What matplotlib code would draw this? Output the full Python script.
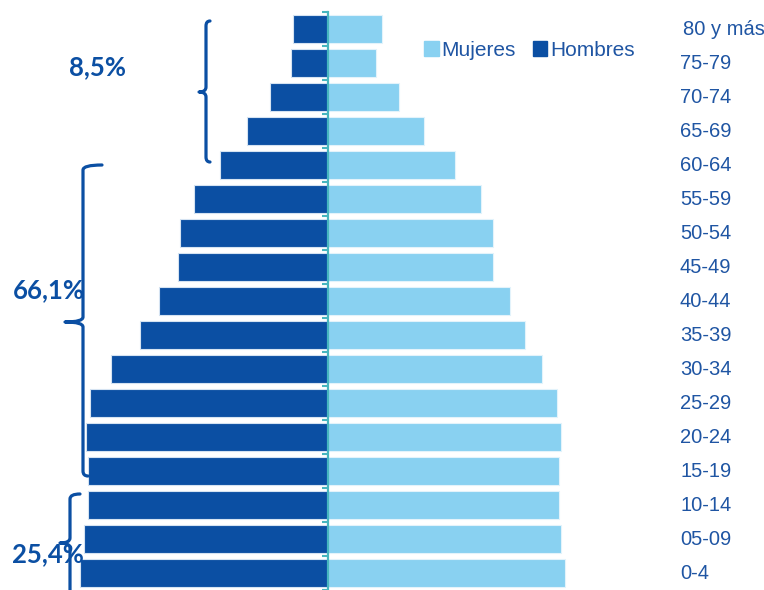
import numpy as np
import matplotlib.pyplot as plt
from matplotlib.patches import Patch, PathPatch
from matplotlib.path import Path

grupos = ["0-4", "05-09", "10-14", "15-19", "20-24", "25-29", "30-34", "35-39",
          "40-44", "45-49", "50-54", "55-59", "60-64", "65-69", "70-74",
          "75-79", "80 y más"]
hombres = [248, 244, 240, 240, 242, 238, 217, 188, 169, 150, 148, 134, 108, 81, 58, 37, 35]
mujeres = [237, 233, 231, 231, 233, 229, 214, 197, 182, 165, 165, 153, 127, 96, 71, 48, 54]
porcentajes = ["25,4%", "66,1%", "8,5%"]

AZUL = "#0b4fa3"
CELESTE = "#89d1f1"
TEAL = "#47b6bf"
TEXTO = "#1f55a3"

fig = plt.figure(figsize=(7.64, 5.90), dpi=100)
ax = fig.add_axes([0, 0, 1, 1])
y = np.arange(len(grupos))

ax.barh(y, -np.array(hombres), height=0.82, color=AZUL, edgecolor="#d5e3f2", linewidth=0.8)
ax.barh(y, mujeres, height=0.82, color=CELESTE, edgecolor="#e3f3fb", linewidth=0.8)
ax.set_xlim(-328, 436)
ax.set_ylim(-0.5, 16.853)

# eje central con marcas entre grupos
for s in ["top", "right", "bottom"]:
    ax.spines[s].set_visible(False)
ax.spines["left"].set_position(("data", 0))
ax.spines["left"].set_bounds(-0.5, 16.5)
ax.spines["left"].set_color(TEAL)
ax.spines["left"].set_linewidth(1.6)
ax.set_xticks([])
ax.set_yticks(np.arange(-0.5, 17, 1))
ax.set_yticklabels([])
ax.tick_params(axis="y", length=4, width=1.5, color=TEAL, direction="out")
ax.patch.set_alpha(0)

for i, g in enumerate(grupos):
    dx = 3 if g == "80 y más" else 0
    ax.text(352 + dx, i, g, ha="left", va="center", fontsize=14.5,
            color=TEXTO, family=["Liberation Sans", "DejaVu Sans"])

handles = [Patch(color=CELESTE), Patch(color=AZUL)]
fig.legend(handles, ["Mujeres", "Hombres"], loc="center left",
           bbox_to_anchor=(424 / 764, 1 - 50 / 590), ncol=2, frameon=False,
           labelcolor=TEXTO, handlelength=0.7, handleheight=0.7,
           handletextpad=0.15, columnspacing=0.8, borderpad=0, borderaxespad=0,
           prop={"family": ["Liberation Sans", "DejaVu Sans"], "size": 15})

# llaves y porcentajes en coordenadas de pixel
ov = fig.add_axes([0, 0, 1, 1])
ov.set_xlim(0, 764)
ov.set_ylim(590, 0)
ov.set_axis_off()


def llave(x, y0, y1, ym, arm0, arm1, tip, r=5):
    verts = [(x + arm0, y0), (x, y0), (x, y0 + r),
             (x, ym - r), (x, ym), (x - tip, ym),
             (x, ym), (x, ym + r),
             (x, y1 - r), (x, y1), (x + arm1, y1)]
    codes = [Path.MOVETO, Path.CURVE3, Path.CURVE3,
             Path.LINETO, Path.CURVE3, Path.CURVE3,
             Path.CURVE3, Path.CURVE3,
             Path.LINETO, Path.CURVE3, Path.CURVE3]
    ov.add_patch(PathPatch(Path(verts, codes), fill=False, edgecolor=AZUL,
                           linewidth=2.3, capstyle="round", joinstyle="round"))


llave(206, 21, 162, 92, 4, 4, 7)
llave(83, 165, 476, 322, 19, 5, 18)
llave(70, 494, 610, 543, 10, 0, 10)

fuente = ["Lato", "DejaVu Sans"]
ov.text(98, 67, porcentajes[2], ha="center", va="center", fontsize=18.5,
        fontweight="bold", color=AZUL, family=fuente)
ov.text(49, 290, porcentajes[1], ha="center", va="center", fontsize=18.5,
        fontweight="bold", color=AZUL, family=fuente)
ov.text(48, 554, porcentajes[0], ha="center", va="center", fontsize=18.5,
        fontweight="bold", color=AZUL, family=fuente)

fig.savefig("out.png", dpi=100)
